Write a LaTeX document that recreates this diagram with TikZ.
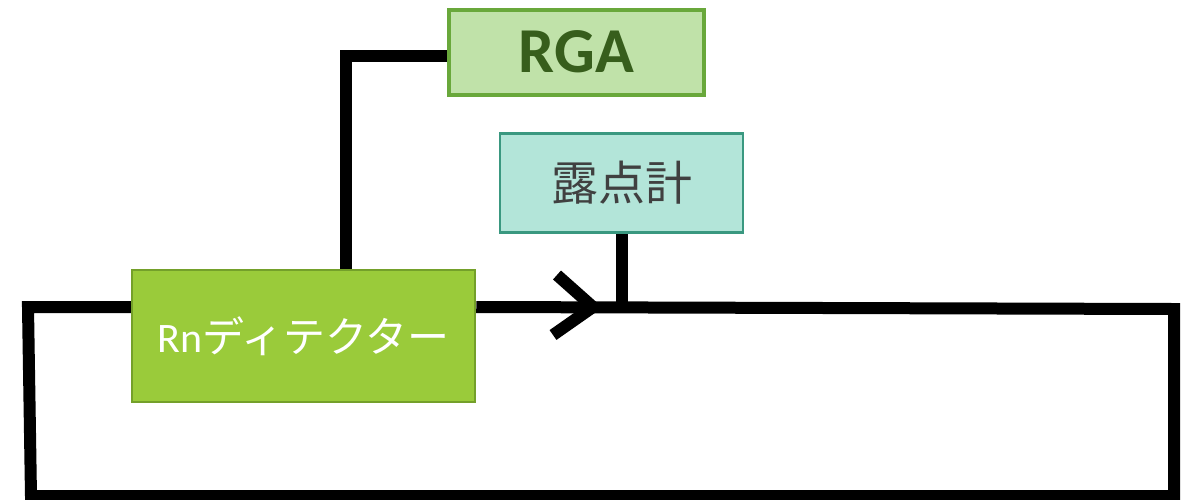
\documentclass[tikz,border=0pt]{standalone}
\usepackage{fontspec}
\usetikzlibrary{backgrounds}
\setmainfont{Carlito}
\newfontfamily\jp{Noto Sans CJK JP}
\definecolor{rgafill}{HTML}{C0E2A9}
\definecolor{rgaline}{HTML}{69A83B}
\definecolor{rgatext}{HTML}{375E1C}
\definecolor{dewfill}{HTML}{B3E5D9}
\definecolor{dewline}{HTML}{3A9880}
\definecolor{dewtext}{HTML}{404040}
\definecolor{rnfill}{HTML}{9ACB3A}
\definecolor{rnline}{HTML}{74A02A}
\tikzset{
  pipe/.style={line width=12pt, black, line join=miter},
  box/.style={inner sep=0pt, align=center},
  rgabox/.style={box, fill=rgafill, draw=rgaline, line width=4pt, minimum width=255pt, minimum height=85pt,
      text=rgatext, font=\fontsize{64}{64}\selectfont\bfseries},
  dewbox/.style={box, fill=dewfill, draw=dewline, line width=2.5pt, minimum width=243pt, minimum height=99pt,
      text=dewtext, font=\jp\fontsize{47}{47}\selectfont},
  rnbox/.style={box, fill=rnfill, draw=rnline, line width=2.5pt, minimum width=343pt, minimum height=132pt,
      text=white, font=\fontsize{42}{42}\selectfont},
}
\begin{document}
\begin{tikzpicture}[x=1pt,y=-1pt]
\useasboundingbox (0,0) rectangle (1189,499);
% nodes
\node[rgabox] (rga) at (576.5,52) {RGA};
\node[dewbox] (dew) at (621.5,183) {露点計};
\node[rnbox] (rn) at (303.5,336) {Rn{\jp ディテクター}};
% coordinates
\coordinate (tl) at (28,307);
\coordinate (bl) at (31,496);
\coordinate (br) at (1174,496);
\coordinate (tr) at (1174,309);
\coordinate (bend) at (346,56);
\coordinate (chA) at (557,275);
\coordinate (chT) at (593,307);
\coordinate (chB) at (553,335);
\begin{scope}[on background layer]
% loop
\draw[pipe] (rn.west |- tl) -- (tl) -- (bl) -- (br) -- (tr) -- (rn.east |- tl);
% RGA connector
\draw[pipe] (rga.west |- bend) -- (bend) -- (bend |- rn.north);
% dew point connector
\draw[pipe] (dew.south) -- (dew.south |- tl);
% flow chevron
\draw[pipe] (chA) -- (chT) -- (chB);
\end{scope}
\end{tikzpicture}
\end{document}
